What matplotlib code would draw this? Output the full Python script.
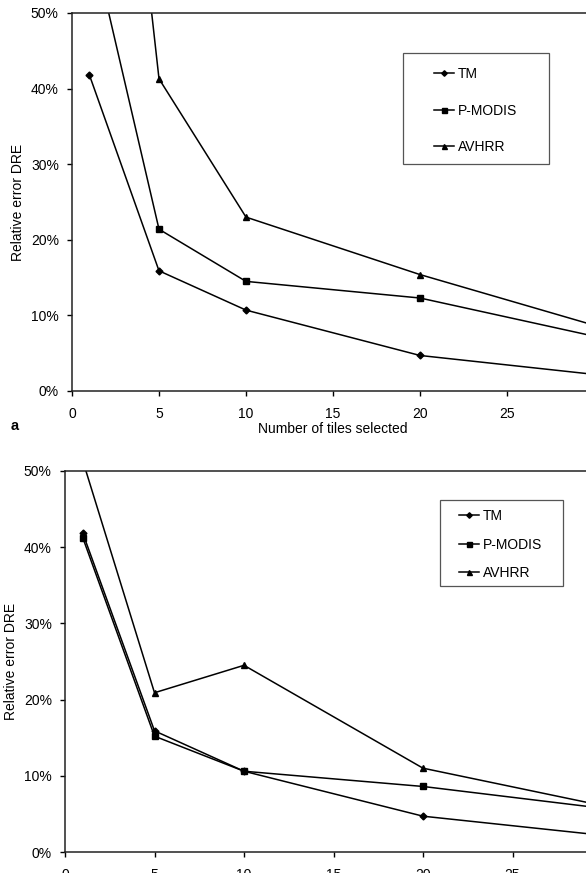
import matplotlib
matplotlib.use("Agg")
import matplotlib.pyplot as plt
from matplotlib.ticker import FuncFormatter
from matplotlib.patches import Rectangle

plt.rcParams['font.family'] = ['Liberation Sans', 'DejaVu Sans']

x = [1, 5, 10, 20, 30]
series_names = ["TM", "P-MODIS", "AVHRR"]

# Panel a
a_tm = [41.8, 15.9, 10.7, 4.7, 2.2]
a_pmodis = [61.0, 21.4, 14.5, 12.3, 7.25]
a_avhrr = [124.0, 41.3, 23.0, 15.4, 8.7]

# Panel b
b_tm = [41.8, 15.9, 10.6, 4.7, 2.2]
b_pmodis = [41.2, 15.2, 10.6, 8.6, 5.75]
b_avhrr = [51.3, 20.9, 24.5, 11.0, 6.1]

yticks = [0, 10, 20, 30, 40, 50]
xticks = [0, 5, 10, 15, 20, 25]

markers = ["D", "s", "^"]
msizes = [3.5, 4.5, 4.5]

W, H = 586, 873
fig = plt.figure(figsize=(W / 100, H / 100), dpi=100)

def setup(ax):
    ax.set_xlim(0, 30)
    ax.set_ylim(0, 50)
    ax.set_xticks(xticks)
    ax.set_yticks(yticks)
    ax.yaxis.set_major_formatter(FuncFormatter(lambda v, p: f"{int(v)}%"))
    ax.tick_params(direction='out', length=3.5, width=1, labelsize=10, colors='black')
    ax.tick_params(axis='x', pad=8)
    ax.tick_params(axis='y', pad=6)
    for s in ax.spines.values():
        s.set_linewidth(1.1)
        s.set_color('#222222')

def draw(ax, data, anchor, box, spacing):
    handles = []
    for vals, name, m, ms in zip(data, series_names, markers, msizes):
        h, = ax.plot(x, vals, color='black', lw=1.1, marker=m, markersize=ms, label=name)
        handles.append(h)
    ax.legend(handles=handles, loc='upper left', bbox_to_anchor=(anchor[0] / W, 1 - anchor[1] / H),
              bbox_transform=fig.transFigure, fontsize=10, frameon=False,
              handlelength=1.45, handletextpad=0.25, labelspacing=spacing,
              borderpad=0, borderaxespad=0, markerscale=0.8)
    x0, y0, x1, y1 = box
    fig.add_artist(Rectangle((x0 / W, 1 - y1 / H), (x1 - x0) / W, (y1 - y0) / H,
                             transform=fig.transFigure, fill=False,
                             edgecolor='#555555', linewidth=0.9))

# top panel
ax1 = fig.add_axes([72 / W, 1 - 391 / H, (594 - 72) / W, (391 - 13) / H])
setup(ax1)
draw(ax1, [a_tm, a_pmodis, a_avhrr], (434, 67), (403, 53, 549, 164), 1.63)
ax1.set_xlabel("Number of tiles selected", fontsize=10, labelpad=1)
ax1.set_ylabel("Relative error DRE", fontsize=10, labelpad=4)
fig.text(15 / W, 1 - 426 / H, "a", fontsize=10.5, fontweight='bold', va='center', ha='center')

# bottom panel
ax2 = fig.add_axes([65 / W, 1 - 852 / H, (602 - 65) / W, (852 - 471) / H])
setup(ax2)
draw(ax2, [b_tm, b_pmodis, b_avhrr], (459, 509), (440, 500, 563, 586), 1.05)
ax2.set_ylabel("Relative error DRE", fontsize=10, labelpad=4)

fig.savefig("out.png", dpi=100)
